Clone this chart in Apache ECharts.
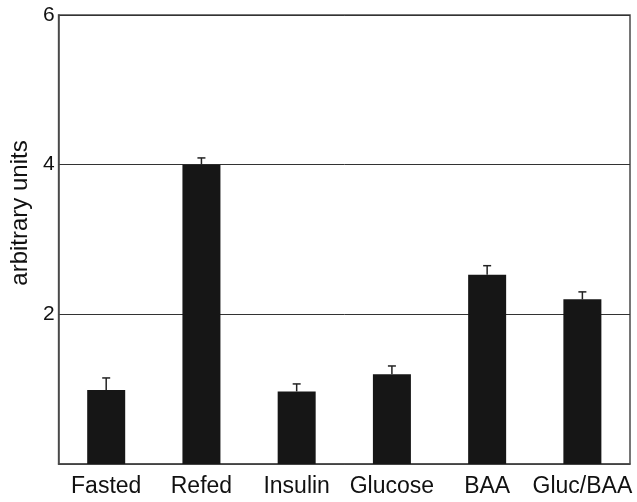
<!DOCTYPE html>
<html>
<head>
<meta charset="utf-8">
<script src="https://cdn.jsdelivr.net/npm/echarts@6/dist/echarts.min.js"></script>
<style>
html,body{margin:0;padding:0;background:#fff;}
#chart{width:637px;height:502px;}
</style>
</head>
<body>
<div id="chart"></div>
<script>
var categories = ['Fasted', 'Refed', 'Insulin', 'Glucose', 'BAA', 'Gluc/BAA'];
var values = [0.99, 4.0, 0.97, 1.2, 2.53, 2.2];
var errorTops = [1.15, 4.09, 1.07, 1.31, 2.65, 2.3];
var yTicks = [0, 2, 4, 6];

var chart = echarts.init(document.getElementById('chart'), null, {renderer: 'canvas'});
var font = '"Liberation Sans", Arial, Helvetica, sans-serif';

var option = {
  animation: false,
  backgroundColor: '#ffffff',
  grid: {
    left: 56, right: 7, top: 15, bottom: 38,
    show: true, borderColor: '#4a4a4a', borderWidth: 1.5, backgroundColor: 'transparent'
  },
  xAxis: {
    type: 'category',
    data: categories,
    axisLine: {show: true, lineStyle: {color: '#4a4a4a', width: 1.5}},
    axisTick: {show: false},
    axisLabel: {color: '#111', fontFamily: font, fontSize: 23, margin: 11, interval: 0}
  },
  yAxis: {
    type: 'value',
    min: yTicks[0], max: yTicks[yTicks.length - 1], interval: 2,
    name: 'arbitrary units',
    nameLocation: 'middle',
    nameGap: 22,
    nameTextStyle: {color: '#111', fontFamily: font, fontSize: 24, padding: [0, 0, 0, 53]},
    axisLine: {show: true, lineStyle: {color: '#4a4a4a', width: 1.5}},
    axisTick: {show: false},
    axisLabel: {
      color: '#111', fontFamily: font, fontSize: 21, margin: 4,
      formatter: function (v) { return v === 0 ? '' : String(v); }
    },
    splitLine: {show: true, lineStyle: {color: '#333', width: 1}}
  },
  series: [
    {
      type: 'bar',
      data: values,
      barWidth: 38,
      itemStyle: {color: '#161616'},
      z: 2
    },
    {
      type: 'custom',
      data: errorTops.map(function (e, i) { return [i, values[i], e]; }),
      encode: {x: 0, y: [1, 2]},
      z: 3,
      renderItem: function (params, api) {
        var i = api.value(0);
        var base = api.coord([i, api.value(1)]);
        var top = api.coord([i, api.value(2)]);
        var hw = 4;
        return {
          type: 'group',
          children: [
            {type: 'line', shape: {x1: base[0], y1: base[1], x2: top[0], y2: top[1]},
             style: {stroke: '#222', lineWidth: 1.5}},
            {type: 'line', shape: {x1: top[0] - hw, y1: top[1], x2: top[0] + hw, y2: top[1]},
             style: {stroke: '#222', lineWidth: 1.5}}
          ]
        };
      }
    }
  ]
};
chart.setOption(option);
</script>
</body>
</html>
